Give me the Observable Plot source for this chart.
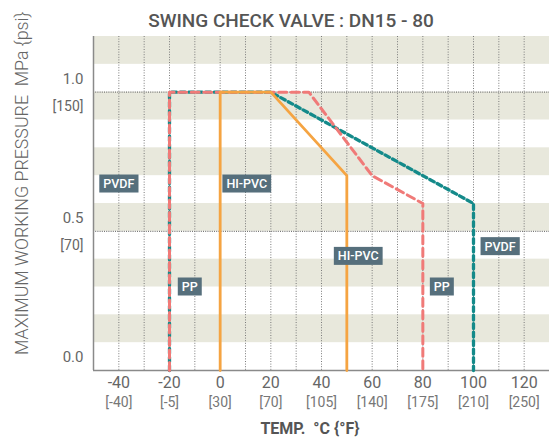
<!DOCTYPE html>
<html>
<head>
<meta charset="utf-8">
<script src="https://cdn.jsdelivr.net/npm/d3@7"></script>
<script src="https://cdn.jsdelivr.net/npm/@observablehq/plot@0.6"></script>
<style>
  html, body { margin: 0; padding: 0; background: #fff; }
  svg { display: block; }
</style>
</head>
<body>
<div id="chart"></div>
<script>
// ---- data ----
const title = "SWING CHECK VALVE : DN15 - 80";
const yTitle = "MAXIMUM WORKING PRESSURE  MPa {psi}";
const xTitle = "TEMP.  °C {°F}";

const xTicks = [-40, -20, 0, 20, 40, 60, 80, 100, 120];
const xTicksF = ["-40", "-5", "30", "70", "105", "140", "175", "210", "250"];
const xGrid = [-40, -30, -20, -10, 0, 10, 20, 30, 40, 50, 60, 70, 80, 90, 100, 110, 120];
const yTicks = [0.0, 0.5, 1.0];
const yTicksPsi = [null, "70", "150"];
const yRefLines = [0.5, 1.0];
const bandStarts = [0.1, 0.3, 0.5, 0.7, 0.9, 1.1];

const ppTemp = [-20, -20, 35, 60, 80, 80];
const ppPress = [0, 1.0, 1.0, 0.7, 0.6, 0];
const pvdfTemp = [-20, -20, 20, 100, 100];
const pvdfPress = [0, 1.0, 1.0, 0.6, 0];
const hipvcTemp = [0, 0, 20, 50, 50];
const hipvcPress = [0, 1.0, 1.0, 0.7, 0];

const labelText = ["PVDF", "HI-PVC", "PP", "HI-PVC", "PP", "PVDF"];
const labelTemp = [-40, 10.5, -12, 54.5, 87.5, 110.5];
const labelPress = [0.67, 0.67, 0.30, 0.41, 0.30, 0.445];

// ---- build tables ----
const toRows = (ts, ps) => ts.map((t, i) => ({t, p: ps[i]}));
const pp = toRows(ppTemp, ppPress);
const pvdf = toRows(pvdfTemp, pvdfPress);
const hipvc = toRows(hipvcTemp, hipvcPress);
const labels = labelText.map((s, i) => ({s, t: labelTemp[i], p: labelPress[i]}));
const bands = bandStarts.map(b => ({y1: b, y2: +(b + 0.1).toFixed(2)}));
const fMap = new Map(xTicks.map((d, i) => [d, xTicksF[i]]));
const psiMap = new Map(yTicks.map((d, i) => [d, yTicksPsi[i]]));

const plot = Plot.plot({
  width: 554,
  height: 439,
  marginLeft: 93,
  marginRight: 5,
  marginTop: 36,
  marginBottom: 69,
  style: {fontFamily: "Roboto, 'DejaVu Sans', sans-serif", fontSize: "14px", color: "#666", background: "#fff"},
  x: {domain: [-50, 130]},
  y: {domain: [0, 1.2]},
  marks: [
    Plot.rectY(bands, {y1: "y1", y2: "y2", fill: "#e8e8dc"}),
    Plot.ruleX(xGrid, {stroke: "#7a7a7a", strokeWidth: 1, strokeDasharray: "1,1.6"}),
    Plot.ruleY(yRefLines, {stroke: "#777", strokeWidth: 1.2, strokeDasharray: "1,1.2"}),
    Plot.ruleX([-50], {stroke: "#8a8a8a", strokeWidth: 1.5}),
    Plot.ruleY([0], {stroke: "#8a8a8a", strokeWidth: 1.5}),
    Plot.axisX(xTicks, {tickSize: 0, tickPadding: 6, tickFormat: d => String(d), fontSize: 16, fill: "#666", label: null}),
    Plot.axisX(xTicks, {tickSize: 0, tickPadding: 27, tickFormat: d => `[${fMap.get(d)}]`, fontSize: 14, fill: "#777", label: null}),
    Plot.axisY(yTicks, {tickSize: 0, tickPadding: 10, dy: -13, tickFormat: d => d.toFixed(1), fontSize: 15, fill: "#666", label: null}),
    Plot.axisY(yTicks.filter(d => psiMap.get(d)), {tickSize: 0, tickPadding: 10, dy: 14, tickFormat: d => `[${psiMap.get(d)}]`, fontSize: 14, fill: "#666", label: null}),
    Plot.line(pvdf, {x: "t", y: "p", stroke: "#148a8a", strokeWidth: 3.3, strokeDasharray: "5,3.5"}),
    Plot.line(pp, {x: "t", y: "p", stroke: "#f07a78", strokeWidth: 3, strokeDasharray: "8,4.5"}),
    Plot.line(hipvc, {x: "t", y: "p", stroke: "#f5a442", strokeWidth: 2.8}),
    Plot.text(labels, {x: "t", y: "p", text: "s", fill: "#fff", fontSize: 12.5, fontWeight: 500, className: "lbl"})
  ]
});

document.getElementById("chart").appendChild(plot);

// label boxes behind text
const svg = d3.select(plot);
svg.selectAll("g.lbl text").each(function() {
  const bb = this.getBBox();
  const padX = 4, padY = 2;
  const r = document.createElementNS("http://www.w3.org/2000/svg", "rect");
  r.setAttribute("x", bb.x - padX);
  r.setAttribute("y", bb.y - padY + 0.5);
  r.setAttribute("width", bb.width + 2 * padX);
  r.setAttribute("height", bb.height + 2 * padY - 1);
  r.setAttribute("fill", "#566f7c");
  const tr = this.getAttribute("transform");
  if (tr) r.setAttribute("transform", tr);
  this.parentNode.insertBefore(r, this);
});

// titles
svg.append("text")
  .attr("x", 291).attr("y", 27)
  .attr("text-anchor", "middle")
  .attr("fill", "#555")
  .style("font-family", "Roboto, sans-serif")
  .style("font-size", "19px")
  .style("font-weight", "500")
  .text(title);

svg.append("text")
  .attr("transform", "translate(28,355) rotate(-90)")
  .attr("text-anchor", "start")
  .attr("fill", "#666")
  .style("font-family", "Roboto, sans-serif")
  .style("font-size", "17.8px")
  .style("font-weight", "300")
  .text(yTitle);

svg.append("text")
  .attr("x", 310).attr("y", 434)
  .attr("text-anchor", "middle")
  .attr("fill", "#555")
  .style("font-family", "Roboto, sans-serif")
  .style("font-size", "16px")
  .style("font-weight", "700")
  .text(xTitle);
</script>
</body>
</html>
